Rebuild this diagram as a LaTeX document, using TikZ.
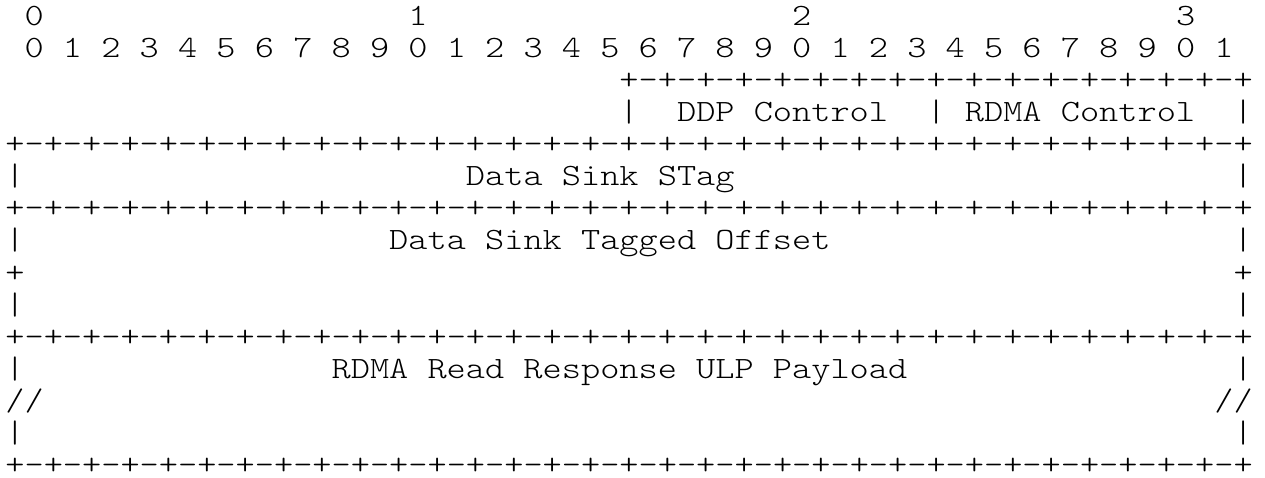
\documentclass[tikz,border=0pt]{standalone}
\usepackage{fontspec}
\newfontfamily\asciifont{lmmonolt10-regular.otf}[FakeStretch=1.1791]
\begin{document}
\begin{tikzpicture}[x=1pt,y=1pt,
  txt/.style={anchor=base west,inner sep=0pt,outer sep=0pt,text=black,text depth=0pt,
    font=\asciifont\fontsize{31pt}{32pt}\selectfont}]
\fill[white] (0,0) rectangle (1265,-477);
\useasboundingbox (0,0) rectangle (1265,-477);
\newcommand\cell[4]{\node[txt] (#1) at ({5.4+19.19*(#2)},{-(25.2+32.1*((#3)-1))}) {#4};}
% header: bit numbers
\cell{tens0}{1}{1}{0}
\cell{tens1}{21}{1}{1}
\cell{tens2}{41}{1}{2}
\cell{tens3}{61}{1}{3}
\foreach \b in {0,...,31}{
  \pgfmathtruncatemacro\d{mod(\b,10)}
  \pgfmathtruncatemacro\c{2*\b+1}
  \cell{bit\b}{\c}{2}{\d}
}
% row 3-4: control fields
\cell{topruler}{32}{3}{+-+-+-+-+-+-+-+-+-+-+-+-+-+-+-+-+}
\cell{barA}{32}{4}{|}
\cell{ddp}{35}{4}{DDP Control}
\cell{barB}{48}{4}{|}
\cell{rdma}{50}{4}{RDMA Control}
\cell{barC}{64}{4}{|}
% row 5-6: STag
\cell{ruler5}{0}{5}{+-+-+-+-+-+-+-+-+-+-+-+-+-+-+-+-+-+-+-+-+-+-+-+-+-+-+-+-+-+-+-+-+}
\cell{stagL}{0}{6}{|}
\cell{stag}{24}{6}{Data Sink STag}
\cell{stagR}{64}{6}{|}
% row 7-10: tagged offset
\cell{ruler7}{0}{7}{+-+-+-+-+-+-+-+-+-+-+-+-+-+-+-+-+-+-+-+-+-+-+-+-+-+-+-+-+-+-+-+-+}
\cell{toL}{0}{8}{|}
\cell{to}{20}{8}{Data Sink Tagged Offset}
\cell{toR}{64}{8}{|}
\cell{toPL}{0}{9}{+}
\cell{toPR}{64}{9}{+}
\cell{toL2}{0}{10}{|}
\cell{toR2}{64}{10}{|}
% row 11-15: payload
\cell{ruler11}{0}{11}{+-+-+-+-+-+-+-+-+-+-+-+-+-+-+-+-+-+-+-+-+-+-+-+-+-+-+-+-+-+-+-+-+}
\cell{plL}{0}{12}{|}
\cell{pl}{17}{12}{RDMA Read Response ULP Payload}
\cell{plR}{64}{12}{|}
\cell{plSL}{0}{13}{//}
\cell{plSR}{63}{13}{//}
\cell{plL2}{0}{14}{|}
\cell{plR2}{64}{14}{|}
\cell{ruler15}{0}{15}{+-+-+-+-+-+-+-+-+-+-+-+-+-+-+-+-+-+-+-+-+-+-+-+-+-+-+-+-+-+-+-+-+}
\end{tikzpicture}
\end{document}
